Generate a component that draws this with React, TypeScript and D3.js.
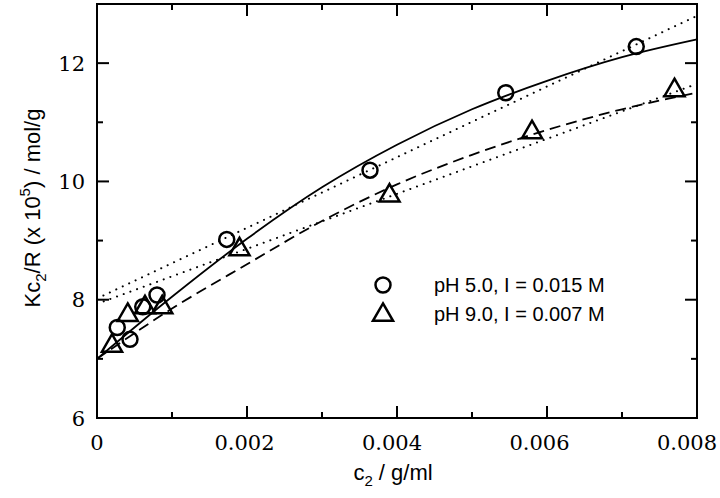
import React, { useEffect, useRef } from 'react';
import * as d3 from 'd3';

// measured points, pH 5.0 / I = 0.015 M (circles)
const c2Acid = [0.00027, 0.00044, 0.00061, 0.0008, 0.00173, 0.00364, 0.00545, 0.00719];
const kcAcid = [7.53, 7.33, 7.88, 8.08, 9.02, 10.19, 11.5, 12.28];

// measured points, pH 9.0 / I = 0.007 M (triangles)
const c2Base = [0.0002, 0.00041, 0.00064, 0.00087, 0.0019, 0.0039, 0.0058, 0.0077];
const kcBase = [7.22, 7.74, 7.87, 7.87, 8.85, 9.76, 10.83, 11.54];

// fitted curves
const fitX = [0, 0.001, 0.002, 0.003, 0.004, 0.005, 0.006, 0.007, 0.008];
const fitAcid = [7.0, 8.05, 9.03, 9.9, 10.62, 11.22, 11.7, 12.1, 12.4];
const fitBase = [7.0, 7.85, 8.6, 9.33, 9.95, 10.45, 10.87, 11.22, 11.5];

// straight (dotted) lines, ends read at c2 = 0 and 0.008
const dotX = [0, 0.008];
const dotAcid = [8.02, 12.8];
const dotBase = [7.93, 11.65];

const xTicks = [0, 0.002, 0.004, 0.006, 0.008];
const xTickLabels = ['0', '0.002', '0.004', '0.006', '0.008'];
const yTicks = [6, 8, 10, 12];
const legendLabels = ['pH 5.0, I = 0.015 M', 'pH 9.0, I = 0.007 M'];

const App = () => {
  const ref = useRef<SVGSVGElement>(null);

  useEffect(() => {
    const width = 720;
    const height = 498;
    const svg = d3.select(ref.current);
    svg.selectAll('*').remove();

    const left = 97, right = 697, top = 4, bottom = 418;
    const x = d3.scaleLinear().domain([0, 0.008]).range([left, right]);
    const y = d3.scaleLinear().domain([6, 13]).range([bottom, top]);

    const serif = '"DejaVu Serif", serif';
    const sans = 'Liberation Sans, Arial, sans-serif';

    svg.attr('width', width).attr('height', height)
      .attr('viewBox', [0, 0, width, height].join(' '))
      .style('background', 'white');

    const plot = svg.append('g');

    const curve = (xs: number[], ys: number[]) =>
      d3.line<number>()
        .x((_d, i) => x(xs[i]))
        .y(d => y(d))
        .curve(d3.curveMonotoneX)(ys);

    // dotted straight lines
    [dotAcid, dotBase].forEach(ys => {
      plot.append('path')
        .attr('d', curve(dotX, ys) as string)
        .attr('fill', 'none')
        .attr('stroke', 'black')
        .attr('stroke-width', 2)
        .attr('stroke-linecap', 'round')
        .attr('stroke-dasharray', '0.1 7');
    });

    plot.append('path')
      .attr('d', curve(fitX, fitAcid) as string)
      .attr('fill', 'none')
      .attr('stroke', 'black')
      .attr('stroke-width', 1.8);

    plot.append('path')
      .attr('d', curve(fitX, fitBase) as string)
      .attr('fill', 'none')
      .attr('stroke', 'black')
      .attr('stroke-width', 1.8)
      .attr('stroke-dasharray', '11 6');

    const tri = d3.symbol().type(d3.symbolTriangle).size(175);

    plot.append('g')
      .selectAll('circle')
      .data(c2Acid)
      .join('circle')
      .attr('cx', d => x(d))
      .attr('cy', (_d, i) => y(kcAcid[i]))
      .attr('r', 7.5)
      .attr('fill', 'none')
      .attr('stroke', 'black')
      .attr('stroke-width', 2.5);

    plot.append('g')
      .selectAll('path')
      .data(c2Base)
      .join('path')
      .attr('d', tri as any)
      .attr('transform', (d, i) => `translate(${x(d)},${y(kcBase[i])})`)
      .attr('fill', 'none')
      .attr('stroke', 'black')
      .attr('stroke-width', 2.5);

    // frame and ticks
    const axes = svg.append('g').attr('stroke', 'black').attr('stroke-width', 2);
    axes.append('rect')
      .attr('x', left).attr('y', top)
      .attr('width', right - left).attr('height', bottom - top)
      .attr('fill', 'none');

    const xMinor = d3.range(0, 0.0081, 0.001);
    xMinor.forEach((v, i) => {
      const len = i % 2 === 0 ? 12 : 6;
      axes.append('line').attr('x1', x(v)).attr('x2', x(v)).attr('y1', bottom).attr('y2', bottom - len);
      axes.append('line').attr('x1', x(v)).attr('x2', x(v)).attr('y1', top).attr('y2', top + len);
    });
    const yMinor = d3.range(6, 13.01, 1);
    yMinor.forEach(v => {
      const len = v % 2 === 0 ? 12 : 6;
      axes.append('line').attr('y1', y(v)).attr('y2', y(v)).attr('x1', left).attr('x2', left + len);
      axes.append('line').attr('y1', y(v)).attr('y2', y(v)).attr('x1', right).attr('x2', right - len);
    });

    svg.append('g')
      .attr('font-family', serif)
      .attr('font-size', 21)
      .selectAll('text')
      .data(xTicks)
      .join('text')
      .attr('x', d => x(d))
      .attr('dx', (_d, i) => -i * 2.5)
      .attr('y', 450)
      .attr('text-anchor', 'middle')
      .text((_d, i) => xTickLabels[i]);

    svg.append('g')
      .attr('font-family', serif)
      .attr('font-size', 21)
      .selectAll('text')
      .data(yTicks)
      .join('text')
      .attr('x', 85)
      .attr('y', d => y(d))
      .attr('dy', '0.36em')
      .attr('text-anchor', 'end')
      .text(d => d);

    // axis titles
    const xt = svg.append('text')
      .attr('x', 393).attr('y', 480)
      .attr('text-anchor', 'middle')
      .style('font-family', sans)
      .style('font-size', '22px');
    xt.append('tspan').text('c');
    xt.append('tspan').style('font-size', '15px').attr('dy', 6).text('2');
    xt.append('tspan').attr('dy', -6).text(' / g/ml');

    const yt = svg.append('text')
      .attr('transform', 'translate(40,208) rotate(-90)')
      .attr('text-anchor', 'middle')
      .style('font-family', sans)
      .style('font-size', '22px');
    yt.append('tspan').text('Kc');
    yt.append('tspan').style('font-size', '15px').attr('dy', 6).text('2');
    yt.append('tspan').attr('dy', -6).text('/R (x 10');
    yt.append('tspan').style('font-size', '15px').attr('dy', -10).text('5');
    yt.append('tspan').attr('dy', 10).text(') / mol/g');

    // legend
    const legend = svg.append('g');
    legend.append('circle')
      .attr('cx', 383).attr('cy', 285).attr('r', 7.5)
      .attr('fill', 'none').attr('stroke', 'black').attr('stroke-width', 2.5);
    legend.append('path')
      .attr('d', tri as any)
      .attr('transform', 'translate(383,315)')
      .attr('fill', 'none').attr('stroke', 'black').attr('stroke-width', 2.5);
    legend.selectAll('text.lg')
      .data(legendLabels)
      .join('text')
      .attr('class', 'lg')
      .attr('x', 434)
      .attr('y', (_d, i) => 292 + i * 29)
      .style('font-family', sans)
      .style('font-size', '20px')
      .text(d => d);
  }, []);

  return (
    <svg ref={ref} style={{ position: 'absolute', left: 0, top: 0, display: 'block' }} />
  );
};

export default App;
